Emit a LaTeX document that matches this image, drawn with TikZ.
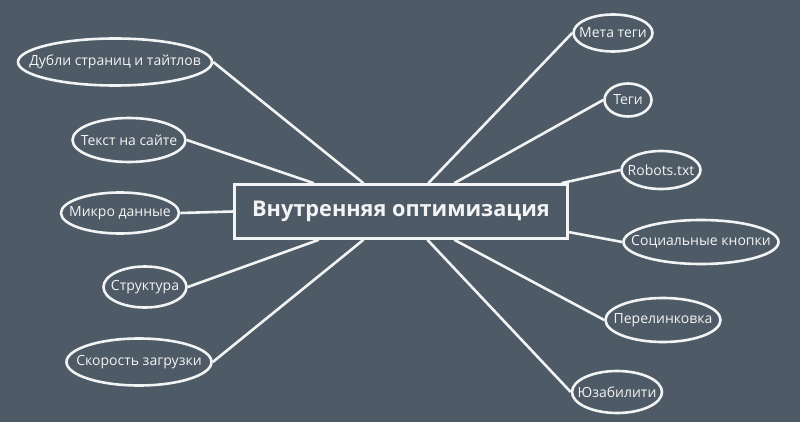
\documentclass[tikz,border=0pt]{standalone}
\usepackage{fontspec}
\setmainfont{Open Sans}
\usetikzlibrary{shapes.geometric}
\definecolor{bg}{HTML}{4E5A65}
\definecolor{fg}{HTML}{F2F3F4}
\newcommand{\zw}[1]{\makebox[0pt]{#1}}
\tikzset{
  lbl/.style={ellipse, draw=fg, line width=2.6pt, inner sep=0pt, text=fg, font=\fontsize{14}{16}\selectfont},
  hub/.style={rectangle, draw=fg, line width=2.6pt, inner sep=0pt, text=fg, font=\fontsize{21.7}{25}\selectfont\bfseries, minimum width=333pt, minimum height=54pt},
  link/.style={draw=fg, line width=2.6pt}
}
\begin{document}
\begin{tikzpicture}[x=1pt,y=-1pt]
\fill[bg] (0,0) rectangle (800,422);
\useasboundingbox (0,0) rectangle (800,422);
\node[hub] (c) at (401,211.5) {Внутренняя оптимизация};
\node[lbl, minimum width=194pt, minimum height=47pt] (e1) at (115,62) {\zw{Дубли страниц и тайтлов}};
\node[lbl, minimum width=113pt, minimum height=44pt] (e2) at (129,140) {\zw{Текст на сайте}};
\node[lbl, minimum width=118pt, minimum height=41pt] (e3) at (120,213) {\zw{Микро данные}};
\node[lbl, minimum width=83pt, minimum height=41pt] (e4) at (145,287) {\zw{Структура}};
\node[lbl, minimum width=145pt, minimum height=47pt] (e5) at (139,362) {\zw{Скорость загрузки}};
\node[lbl, minimum width=79pt, minimum height=37pt] (e6) at (613,33) {\zw{Мета теги}};
\node[lbl, minimum width=47pt, minimum height=33pt] (e7) at (628,100) {\zw{Теги}};
\node[lbl, minimum width=79pt, minimum height=38pt] (e8) at (661,170) {\zw{Robots.txt}};
\node[lbl, minimum width=155pt, minimum height=44pt] (e9) at (701,242) {\zw{Социальные кнопки}};
\node[lbl, minimum width=115pt, minimum height=44pt] (e10) at (663,320) {\zw{Перелинковка}};
\node[lbl, minimum width=90pt, minimum height=42pt] (e11) at (617,392) {\zw{Юзабилити}};
\draw[link] (c.143) -- (e1.east);
\draw[link] (c.162) -- (e2.east);
\draw[link] (c.180) -- (e3.east);
\draw[link] (c.199) -- (e4.east);
\draw[link] (c.217) -- (e5.east);
\draw[link] (c.46.5) -- (e6.west);
\draw[link] (c.28.7) -- (e7.west);
\draw[link] (c.10.5) -- (e8.west);
\draw[link] (c.353.7) -- (e9.west);
\draw[link] (c.332.2) -- (e10.west);
\draw[link] (c.313.5) -- (e11.west);
\end{tikzpicture}
\end{document}
